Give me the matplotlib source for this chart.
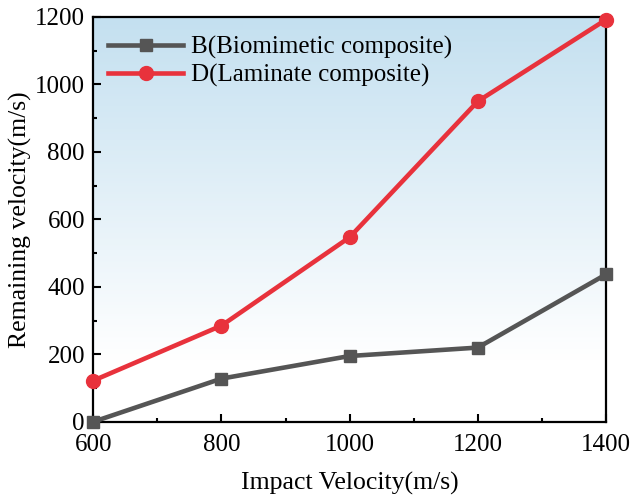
import numpy as np
import matplotlib.pyplot as plt
from matplotlib.colors import LinearSegmentedColormap

impact = [600, 800, 1000, 1200, 1400]
remaining_b = [0, 128, 195, 220, 437]
remaining_d = [122, 285, 547, 950, 1192]
label_b = "B(Biomimetic composite)"
label_d = "D(Laminate composite)"

plt.rcParams['font.family'] = ['Liberation Serif', 'DejaVu Serif']

fig = plt.figure(figsize=(6.3, 4.98), dpi=100)
ax = fig.add_axes([0.148, 0.153, 0.814, 0.813])

# background gradient: light blue at top fading to white near the bottom
cmap = LinearSegmentedColormap.from_list("bg", ["#ffffff", "#c4e0f0"])
grad = np.linspace(0, 1, 256).reshape(-1, 1)
grad = np.clip((grad - 0.15) / 0.85, 0, 1)
ax.imshow(grad, aspect='auto', cmap=cmap, origin='lower',
          extent=[600, 1400, 0, 1200], zorder=0)

ax.plot(impact, remaining_b, color='#555555', lw=3.3, marker='s', ms=9,
        label=label_b, zorder=3, clip_on=False)
ax.plot(impact, remaining_d, color='#e8323c', lw=3.3, marker='o', ms=10,
        label=label_d, zorder=3, clip_on=False)

ax.set_xlim(600, 1400)
ax.set_ylim(0, 1200)
ax.set_xticks([600, 800, 1000, 1200, 1400])
ax.set_yticks([0, 200, 400, 600, 800, 1000, 1200])
ax.set_xticks([700, 900, 1100, 1300], minor=True)
ax.set_yticks([100, 300, 500, 700, 900, 1100], minor=True)
ax.tick_params(which='major', direction='in', length=6, width=1.5, labelsize=18)
ax.tick_params(axis='x', which='major', pad=9)
ax.tick_params(axis='y', which='major', pad=6)
ax.tick_params(which='minor', direction='in', length=3, width=1.5)
for s in ax.spines.values():
    s.set_linewidth(1.6)

ax.set_xlabel("Impact Velocity(m/s)", fontsize=18.5, labelpad=11)
ax.set_ylabel("Remaining velocity(m/s)", fontsize=18.5, labelpad=2)

ax.legend(loc='upper left', fontsize=18, frameon=False, handlelength=3.0,
          borderaxespad=0.2, handletextpad=0.3, labelspacing=0.2,
          bbox_to_anchor=(0.0, 0.99))

fig.savefig("out.png", dpi=100)
